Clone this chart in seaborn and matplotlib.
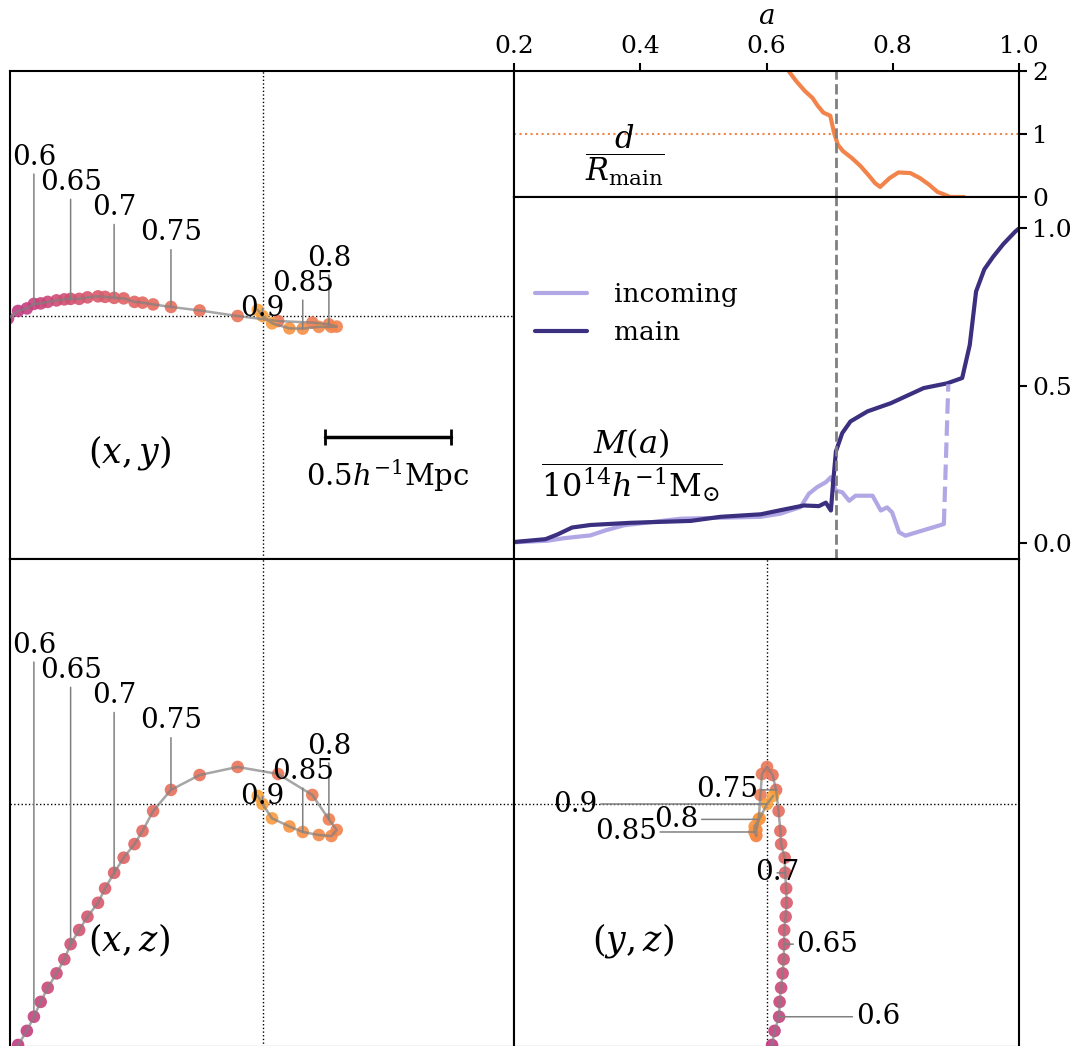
import numpy as np
import pandas as pd
import matplotlib
matplotlib.use('Agg')
import matplotlib.pyplot as plt
import seaborn as sns

# trajectory of the incoming halo, relative to the main halo (h^-1 Mpc)
a_snap = [0.57, 0.58, 0.59, 0.60, 0.61, 0.62, 0.63, 0.64, 0.65, 0.66, 0.67, 0.68,
          0.69, 0.70, 0.71, 0.72, 0.73, 0.74, 0.75, 0.76, 0.77, 0.78, 0.79, 0.80,
          0.8125, 0.825, 0.8375, 0.85, 0.8667, 0.8833, 0.90, 0.91]
x_traj = [-1.012, -0.972, -0.937, -0.909, -0.882, -0.854, -0.819, -0.788, -0.763, -0.729,
          -0.696, -0.654, -0.626, -0.590, -0.552, -0.509, -0.477, -0.435, -0.364, -0.250,
          -0.099, 0.062, 0.198, 0.264, 0.295, 0.274, 0.224, 0.160, 0.107, 0.038, 0.0, -0.019]
y_traj = [-0.010, 0.020, 0.030, 0.048, 0.050, 0.056, 0.062, 0.066, 0.068, 0.068,
          0.074, 0.078, 0.076, 0.072, 0.070, 0.056, 0.053, 0.046, 0.036, 0.022,
          0.0, -0.020, -0.026, -0.033, -0.042, -0.043, -0.043, -0.050, -0.049, -0.029, 0.0, 0.024]
z_traj = [-1.016, -0.956, -0.900, -0.844, -0.785, -0.729, -0.672, -0.616, -0.556, -0.500,
          -0.447, -0.392, -0.335, -0.273, -0.213, -0.159, -0.107, -0.028, 0.056, 0.115,
          0.147, 0.119, 0.036, -0.061, -0.103, -0.127, -0.123, -0.111, -0.089, -0.057, 0.0, 0.032]
label_a = [0.6, 0.65, 0.7, 0.75, 0.8, 0.85, 0.9]

# distance in units of the main halo radius
a_d = [0.635, 0.647, 0.661, 0.673, 0.681, 0.690, 0.701, 0.707, 0.713, 0.721, 0.735, 0.749,
       0.763, 0.772, 0.780, 0.795, 0.809, 0.828, 0.843, 0.857, 0.871, 0.879, 0.891, 0.913]
d_ratio = [2.0, 1.84, 1.68, 1.57, 1.45, 1.34, 1.29, 1.02, 0.83, 0.73, 0.62, 0.49,
           0.33, 0.22, 0.16, 0.30, 0.39, 0.38, 0.30, 0.20, 0.08, 0.05, 0.0, 0.0]
a_merge = 0.71

# mass histories (10^14 h^-1 Msun)
a_main = [0.200, 0.250, 0.269, 0.292, 0.321, 0.385, 0.480, 0.527, 0.591, 0.622, 0.659, 0.683,
          0.694, 0.702, 0.706, 0.710, 0.720, 0.733, 0.760, 0.797, 0.849, 0.886, 0.910, 0.922,
          0.932, 0.945, 0.959, 0.975, 0.994, 1.000]
m_main = [0.004, 0.013, 0.028, 0.050, 0.058, 0.065, 0.071, 0.084, 0.092, 0.105, 0.120, 0.118,
          0.129, 0.104, 0.203, 0.292, 0.350, 0.387, 0.419, 0.445, 0.493, 0.508, 0.525, 0.63,
          0.80, 0.87, 0.91, 0.95, 0.99, 1.0]
a_inc = [0.200, 0.253, 0.279, 0.321, 0.345, 0.374, 0.464, 0.527, 0.591, 0.622, 0.654, 0.667,
         0.680, 0.694, 0.702, 0.710, 0.720, 0.731, 0.741, 0.768, 0.781, 0.791, 0.799, 0.810,
         0.820, 0.881]
m_inc = [0.003, 0.008, 0.016, 0.025, 0.041, 0.057, 0.078, 0.081, 0.084, 0.094, 0.115, 0.157,
         0.178, 0.194, 0.210, 0.167, 0.162, 0.135, 0.151, 0.151, 0.104, 0.114, 0.098, 0.035,
         0.024, 0.061]
a_jump = [0.881, 0.888]
m_jump = [0.061, 0.505]

c_main = '#3b2f80'
c_inc = '#b1a7e5'
c_d = plt.get_cmap('plasma')(0.7)

sns.set_style('white')
plt.rcParams['font.family'] = 'serif'
plt.rcParams['font.serif'] = ['DejaVu Serif']
plt.rcParams['mathtext.fontset'] = 'dejavuserif'
plt.rcParams['axes.edgecolor'] = 'black'
plt.rcParams['axes.linewidth'] = 1.5
plt.rcParams['text.color'] = 'black'
plt.rcParams['axes.labelcolor'] = 'black'
plt.rcParams['xtick.color'] = 'black'
plt.rcParams['ytick.color'] = 'black'

W, H = 1074, 1046
fig = plt.figure(figsize=(W / 100, H / 100), dpi=100)


def fr(x0, y0, x1, y1):
    return [x0 / W, 1 - y1 / H, (x1 - x0) / W, (y1 - y0) / H]


ax_xy = fig.add_axes(fr(10, 71, 514, 559))
ax_xz = fig.add_axes(fr(10, 559, 514, 1047))
ax_yz = fig.add_axes(fr(514, 559, 1019, 1047))
ax_d = fig.add_axes(fr(514, 71, 1019, 197))
ax_m = fig.add_axes(fr(514, 197, 1019, 559))

traj = pd.DataFrame({'a': a_snap, 'x': x_traj, 'y': y_traj, 'z': z_traj})
idx = [int(np.argmin(np.abs(np.array(a_snap) - la))) for la in label_a]

panels = [(ax_xy, 'x', 'y', '$(x, y)$'), (ax_xz, 'x', 'z', '$(x, z)$'), (ax_yz, 'y', 'z', '$(y, z)$')]
for ax, h, v, name in panels:
    sns.scatterplot(data=traj, x=h, y=v, hue='a', palette='plasma', hue_norm=(0.12, 1.12),
                    s=82, linewidth=0, alpha=0.9, legend=False, ax=ax, zorder=2)
    ax.plot(traj[h], traj[v], color='gray', alpha=0.7, lw=1.8, zorder=3)
    ax.axhline(0, color='k', ls=':', lw=1, zorder=1)
    ax.axvline(0, color='k', ls=':', lw=1, zorder=1)
    ax.set_xlim(-1.004, 1.0)
    ax.set_ylim(-0.964, 0.972)
    ax.set_xticks([])
    ax.set_yticks([])
    ax.set_xlabel('')
    ax.set_ylabel('')
    ax.text(-0.53, -0.54, name, fontsize=25, ha='center', va='center')
    for la, i in zip(label_a, idx):
        px, py = traj[h][i], traj[v][i]
        if ax is ax_yz:
            xt, yt, va = 0.44 - 4 * (la - 0.6), py, 'center'
        else:
            xt, yt, va = px, 2 * (0.9 - la), 'baseline'
        ax.annotate('{:g}'.format(la), xy=(px, py), xytext=(xt, yt), ha='center', va=va,
                    fontsize=20, zorder=4,
                    arrowprops=dict(arrowstyle='-', color='gray', lw=1.1, shrinkA=0, shrinkB=0))

# scale bar
ax_xy.plot([0.25, 0.75], [-0.48, -0.48], color='k', lw=2.5, marker='|', ms=12, mew=2)
ax_xy.text(0.5, -0.635, r'$0.5h^{-1}\mathrm{Mpc}$', fontsize=21, ha='center', va='center')

# d / R_main
sns.lineplot(x=a_d, y=d_ratio, color=c_d, lw=3, ax=ax_d)
ax_d.axhline(1, color=c_d, ls=':', lw=1.5)
ax_d.axvline(a_merge, color='gray', ls='--', lw=2)
ax_d.set_xlim(0.2, 1.0)
ax_d.set_ylim(0, 2)
ax_d.set_xticks([0.2, 0.4, 0.6, 0.8, 1.0])
ax_d.set_xticklabels(['0.2', '0.4', '0.6', '0.8', '1.0'])
ax_d.set_yticks([0, 1, 2])
ax_d.xaxis.set_label_position('top')
ax_d.yaxis.set_label_position('right')
ax_d.set_xlabel('$a$', fontsize=20, labelpad=8)
ax_d.set_ylabel('')
ax_d.tick_params(top=True, labeltop=True, bottom=False, labelbottom=False,
                 right=True, labelright=True, left=False, labelleft=False,
                 direction='out', length=6, width=1.5, labelsize=18)
ax_d.text(0.22, 0.333, r'$\dfrac{d}{R_{\rm main}}$', transform=ax_d.transAxes,
          fontsize=22, ha='center', va='center')

# mass histories
sns.lineplot(x=a_inc, y=m_inc, color=c_inc, lw=3, ax=ax_m, label='incoming')
sns.lineplot(x=a_main, y=m_main, color=c_main, lw=3, ax=ax_m, label='main')
ax_m.plot(a_jump, m_jump, color=c_inc, lw=3, ls='--')
ax_m.axvline(a_merge, color='gray', ls='--', lw=2)
ax_m.set_xlim(0.2, 1.0)
ax_m.set_ylim(-0.05, 1.1)
ax_m.set_xticks([])
ax_m.set_yticks([0.0, 0.5, 1.0])
ax_m.set_yticklabels(['0.0', '0.5', '1.0'])
ax_m.set_ylabel('')
ax_m.tick_params(right=True, labelright=True, left=False, labelleft=False,
                 direction='out', length=6, width=1.5, labelsize=18)
ax_m.legend(loc='upper left', bbox_to_anchor=(0.02, 0.795), frameon=False, fontsize=19,
            borderaxespad=0, handletextpad=1.0)
ax_m.text(0.234, 0.26, r'$\dfrac{M(a)}{10^{14}h^{-1}\mathrm{M}_{\odot}}$',
          transform=ax_m.transAxes, fontsize=23, ha='center', va='center')

fig.savefig('out.png', dpi=100)
